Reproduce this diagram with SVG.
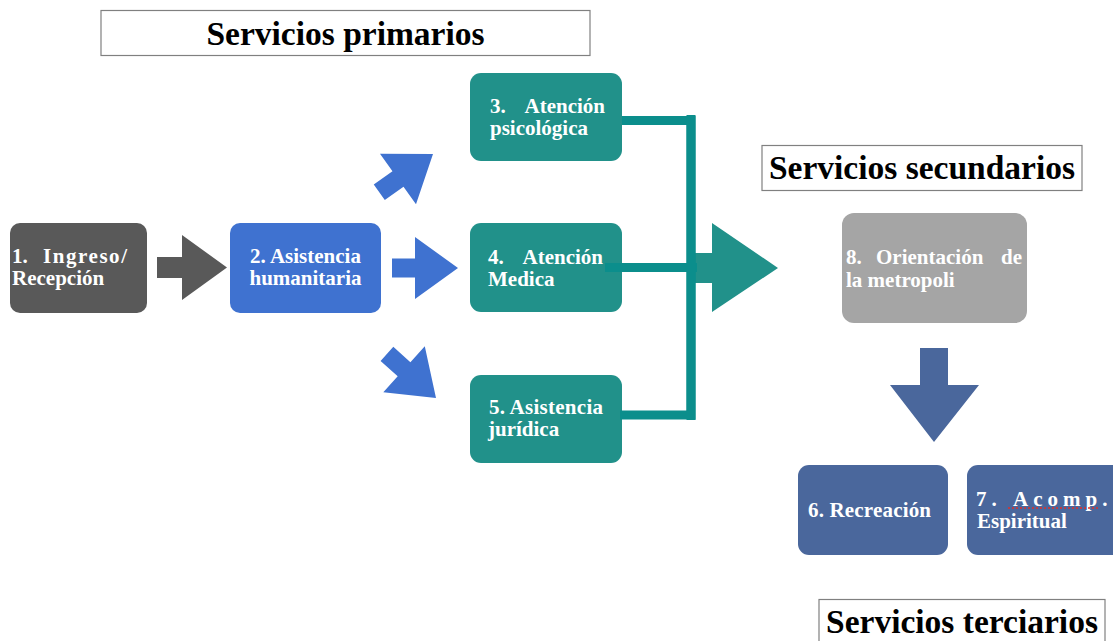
<svg xmlns="http://www.w3.org/2000/svg" width="1113" height="641" viewBox="0 0 1113 641">
<style>
.t{font-family:"Liberation Serif","Times New Roman",serif;font-weight:bold;fill:#fff;font-size:21px}
.h{font-family:"Liberation Serif","Times New Roman",serif;font-weight:bold;fill:#000;font-size:33.5px}
.tb{fill:#fff;stroke:#808080;stroke-width:1.2}
.conn{stroke:#0B8E8C;stroke-width:9;fill:none}
</style>
<defs>
<polygon id="barr" points="-66,-9.5 -43,-9.5 -43,-31 0,0 -43,31 -43,9.5 -66,9.5"/>
</defs>
<rect width="1113" height="641" fill="#fff"/>

<g id="title-primarios"><rect class="tb" x="101" y="10.5" width="489" height="45"/><text class="h" x="345.5" y="45" text-anchor="middle">Servicios primarios</text></g>
<g id="title-secundarios"><rect class="tb" x="762" y="145.5" width="320" height="45"/><text class="h" x="922" y="179" text-anchor="middle">Servicios secundarios</text></g>
<g id="title-terciarios"><rect class="tb" x="819" y="599.5" width="286" height="50"/><text class="h" x="962" y="633" text-anchor="middle">Servicios terciarios</text></g>

<g id="arrows">
<polygon points="157,257 182,257 182,235 227,267.5 182,300 182,278 157,278" fill="#595959"/>
<use href="#barr" fill="#3F72D0" transform="translate(458,268)"/>
<use href="#barr" fill="#3F72D0" transform="translate(433,154) rotate(-35.5)"/>
<use href="#barr" fill="#3F72D0" transform="translate(436,398) rotate(42)"/>
<polygon points="695,253 712,253 712,223 778,268 712,312 712,283 695,283" fill="#21918A"/>
<polygon points="920,348 948,348 948,385 979,385 934,442 890,385 920,385" fill="#4A679C"/>
</g>

<g id="node1"><rect x="10" y="223" width="137" height="90" rx="10" fill="#595959"/>
<text class="t" x="12" y="263">1.</text><text class="t" x="43" y="263" textLength="84" lengthAdjust="spacing">Ingreso/</text>
<text class="t" x="12" y="285">Recepción</text></g>

<g id="node2"><rect x="230" y="223" width="151" height="90" rx="10" fill="#3F72D0"/>
<text class="t" x="305.5" y="263" text-anchor="middle">2. Asistencia</text>
<text class="t" x="305.5" y="285" text-anchor="middle">humanitaria</text></g>

<g id="node3"><rect x="470" y="73" width="152" height="88" rx="11" fill="#21918A"/>
<text class="t" x="490" y="113">3.</text><text class="t" x="605" y="113" text-anchor="end">Atención</text>
<text class="t" x="490" y="135">psicológica</text></g>

<g id="node4"><rect x="470" y="223" width="152" height="89" rx="11" fill="#21918A"/>
<text class="t" x="488" y="264">4.</text><text class="t" x="603" y="264" text-anchor="end">Atención</text>
<text class="t" x="488" y="286">Medica</text></g>

<g id="node5"><rect x="470" y="375" width="152" height="88" rx="11" fill="#21918A"/>
<text class="t" x="489" y="414" textLength="114" lengthAdjust="spacing">5. Asistencia</text>
<text class="t" x="488" y="436">jurídica</text></g>

<g id="connectors">
<polyline class="conn" points="622,120.5 691,120.5 691,415 620,415"/>
<line class="conn" x1="605" y1="267.5" x2="697" y2="267.5"/>
<line class="conn" x1="691" y1="115" x2="691" y2="420"/>
</g>

<g id="node8"><rect x="842" y="213" width="185" height="110" rx="12" fill="#A5A5A5"/>
<text class="t" x="846" y="264">8.</text><text class="t" x="876" y="264">Orientación</text><text class="t" x="1022" y="264" text-anchor="end">de</text>
<text class="t" x="846" y="287">la metropoli</text></g>

<g id="node6"><rect x="798" y="465" width="150" height="90" rx="11" fill="#4A679C"/>
<text class="t" x="808" y="517" textLength="123" lengthAdjust="spacing">6. Recreación</text></g>

<g id="node7"><rect x="967" y="465" width="160" height="90" rx="11" fill="#4A679C"/>
<text class="t" x="976" y="506" letter-spacing="5">7.</text><text class="t" x="1013" y="506" letter-spacing="5">Acomp.</text>
<line x1="1008" y1="508" x2="1100" y2="508" stroke="#E0302A" stroke-width="1.5" stroke-dasharray="2,2"/>
<text class="t" x="977" y="528">Espiritual</text></g>
</svg>
